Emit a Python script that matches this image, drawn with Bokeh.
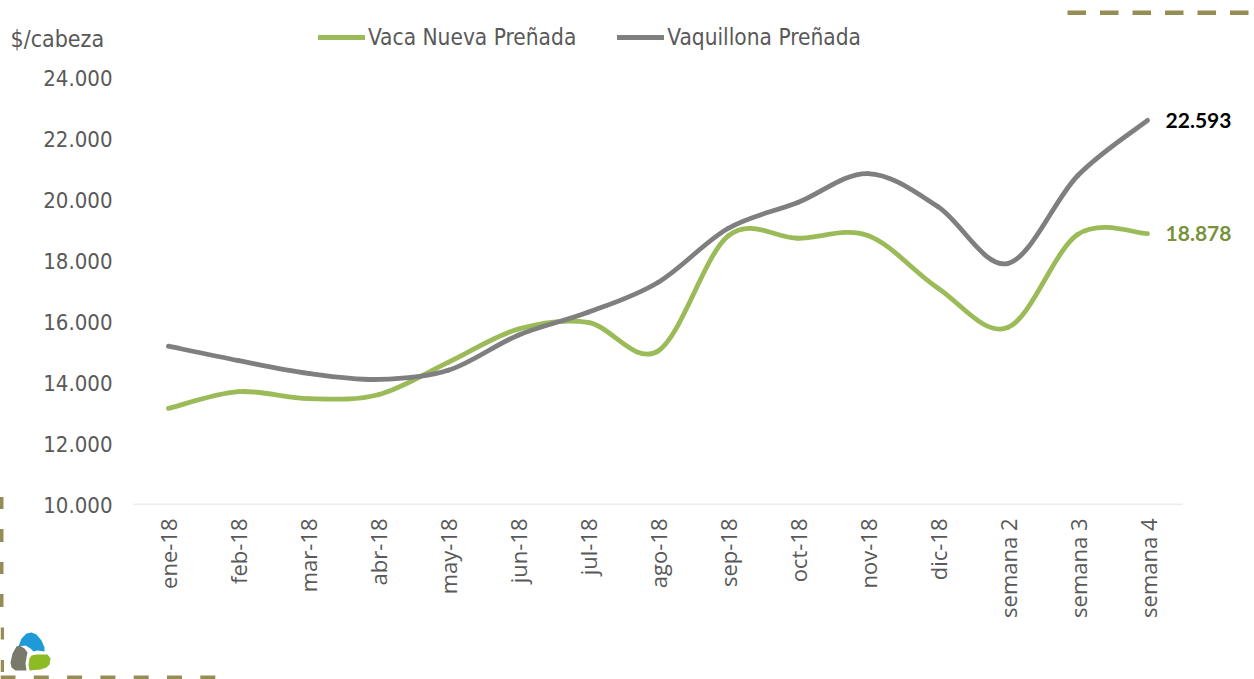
import math
from bokeh.plotting import figure
from bokeh.layouts import column, row
from bokeh.models import (Range1d, FixedTicker, Legend, LegendItem, LabelSet,
                          ColumnDataSource, Div)
from bokeh.core.properties import value
from bokeh.embed import file_html
from bokeh.resources import INLINE

# ---------------- data ----------------
categories = ["ene-18", "feb-18", "mar-18", "abr-18", "may-18", "jun-18", "jul-18",
              "ago-18", "sep-18", "oct-18", "nov-18", "dic-18", "semana 2",
              "semana 3", "semana 4"]
vaca_nueva = [13150, 13700, 13470, 13600, 14660, 15750, 15970, 15030, 18800,
              18730, 18820, 17100, 15800, 18850, 18878]
vaquillona = [15190, 14720, 14300, 14100, 14400, 15550, 16300, 17280, 19050,
              19900, 20850, 19770, 17900, 20780, 22593]
y_ticks = [10000, 12000, 14000, 16000, 18000, 20000, 22000, 24000]
y_tick_labels = ["10.000", "12.000", "14.000", "16.000", "18.000", "20.000",
                 "22.000", "24.000"]
series_names = ["Vaca Nueva Preñada", "Vaquillona Preñada"]
series_values = [vaca_nueva, vaquillona]
series_colors = ["#9BBB59", "#7F7F7F"]
end_label_colors = ["#77933C", "#000000"]
y_label = "$/cabeza"

TEXT_GREY = "#595959"
DECO = "#968C55"
UI_FONT = "DejaVu Sans Condensed, DejaVu Sans"

W, H = 1254, 679
TOP_H = 60          # strip above the chart (unit label, legend, rule)
BOT_H = 54          # strip below the chart (logo, rule)
LEFT_W = 6          # strip left of the chart (dashed rule)
MAIN_H = H - TOP_H - BOT_H
MAIN_W = W - LEFT_W


def fmt(v):
    return f"{v:,}".replace(",", ".")


def bezier_source(vals):
    """Smoothed (Catmull-Rom style) bezier segments through the data points."""
    n = len(vals)

    def P(i):
        i = min(max(i, 0), n - 1)
        return float(i), float(vals[i])

    d = {k: [] for k in ["x0", "y0", "x1", "y1", "cx0", "cy0", "cx1", "cy1"]}
    for i in range(n - 1):
        xa, ya = P(i)
        xb, yb = P(i + 1)
        xp, yp = P(i - 1)
        xn, yn = P(i + 2)
        d["x0"].append(xa); d["y0"].append(ya)
        d["x1"].append(xb); d["y1"].append(yb)
        d["cx0"].append(xa + (xb - xp) / 6.0); d["cy0"].append(ya + (yb - yp) / 6.0)
        d["cx1"].append(xb - (xn - xa) / 6.0); d["cy1"].append(yb - (yn - ya) / 6.0)
    return ColumnDataSource(d)


def strip(width, height, x0, y0):
    """A bare figure whose data space equals page pixels (y downward)."""
    f = figure(width=width, height=height, output_backend="svg", toolbar_location=None,
               x_range=Range1d(x0, x0 + width), y_range=Range1d(y0 + height, y0),
               min_border=0, min_border_left=0, min_border_right=0,
               min_border_top=0, min_border_bottom=0)
    f.axis.visible = False
    f.grid.visible = False
    f.outline_line_color = None
    f.background_fill_color = "white"
    f.border_fill_color = "white"
    return f


def dashes(f, start, stop, period, length, a, b, horizontal=True):
    xs0, xs1, ys0, ys1 = [], [], [], []
    s = start
    while s < stop:
        e = min(s + length, stop)
        if horizontal:
            xs0.append(s); xs1.append(e); ys0.append(a); ys1.append(b)
        else:
            xs0.append(a); xs1.append(b); ys0.append(s); ys1.append(e)
        s += period
    f.quad(left=xs0, right=xs1, top=ys0, bottom=ys1, fill_color=DECO, line_alpha=0)


# ---------------- main chart ----------------
n = len(categories)
frame_left, frame_right_axis = 133, 1182        # page px of the category band
px_per_cat = (frame_right_axis - frame_left) / n
min_left = frame_left - LEFT_W
x_end = -0.5 + (MAIN_W - min_left) / px_per_cat
frame_bottom_local = 504 - TOP_H
px_per_unit = (504 - 77) / (y_ticks[-1] - y_ticks[0])
y_end = y_ticks[0] + frame_bottom_local / px_per_unit

p = figure(width=MAIN_W, height=MAIN_H, output_backend="svg", toolbar_location=None,
           x_range=Range1d(-0.5, x_end), y_range=Range1d(y_ticks[0], y_end),
           min_border_left=min_left, min_border_right=0, min_border_top=0,
           min_border_bottom=MAIN_H - frame_bottom_local,
           background_fill_color="white", border_fill_color="white")
p.outline_line_color = None
p.xgrid.visible = False
p.ygrid.visible = False

p.xaxis.ticker = FixedTicker(ticks=list(range(n)))
p.xaxis.major_label_overrides = {i: c for i, c in enumerate(categories)}
p.xaxis.major_label_orientation = math.pi / 2
p.xaxis.major_label_text_font = "Open Sans"
p.xaxis.major_label_text_font_size = "22px"
p.xaxis.major_label_text_color = TEXT_GREY
p.xaxis.major_label_standoff = 14
p.xaxis.major_tick_out = 0
p.xaxis.major_tick_in = 0
p.xaxis.axis_line_color = None
p.xaxis.major_tick_line_color = None
p.xaxis.minor_tick_line_color = None

p.yaxis.ticker = FixedTicker(ticks=y_ticks)
p.yaxis.major_label_overrides = {t: l for t, l in zip(y_ticks, y_tick_labels)}
p.yaxis.major_label_text_font = UI_FONT
p.yaxis.major_label_text_font_size = "22px"
p.yaxis.major_label_text_color = TEXT_GREY
p.yaxis.major_label_standoff = 21
p.yaxis.major_tick_out = 0
p.yaxis.major_tick_in = 0
p.yaxis.axis_line_color = None
p.yaxis.major_tick_line_color = None
p.yaxis.minor_tick_line_color = None

# category axis base line (only under the categories)
p.segment(x0=[-0.5], y0=[y_ticks[0]], x1=[n - 0.5], y1=[y_ticks[0]],
          line_color="#D9D9D9", line_width=1.5)

for vals, col in zip(series_values, series_colors):
    p.bezier(x0="x0", y0="y0", x1="x1", y1="y1", cx0="cx0", cy0="cy0",
             cx1="cx1", cy1="cy1", source=bezier_source(vals),
             line_color=col, line_width=4.8, line_cap="round")

lab_src = ColumnDataSource(dict(
    x=[n - 1] * len(series_values),
    y=[v[-1] for v in series_values],
    text=[fmt(v[-1]) for v in series_values],
    color=end_label_colors))
p.add_layout(LabelSet(x="x", y="y", text="text", source=lab_src, x_offset=18,
                      text_color="color", text_font=value("Lato"),
                      text_font_size=value("21px"), text_font_style="bold",
                      text_baseline="middle", text_align="left"))

# ---------------- top strip: unit label, legend, dashed rule ----------------
top = strip(W, TOP_H, 0, 0)
top.text(x=[10], y=[38], text=[y_label], text_font=value(UI_FONT),
         text_font_size=value("23px"), text_color=TEXT_GREY,
         text_baseline="middle", text_align="left")
items = []
for name, col in zip(series_names, series_colors):
    # legend swatch carrier: a line kept outside the visible strip
    r = top.line(x=[-50, -40], y=[-50, -50], line_color=col, line_width=4.8,
                 line_cap="round")
    items.append(LegendItem(label=name, renderers=[r]))
legend = Legend(items=items, orientation="horizontal", location=(318, TOP_H - 50),
                padding=0, margin=0, spacing=41, glyph_width=47, glyph_height=22,
                label_height=22, label_standoff=3, border_line_alpha=0,
                background_fill_alpha=0, label_text_font=UI_FONT,
                label_text_font_size="22.5px", label_text_color=TEXT_GREY)
top.add_layout(legend)
dashes(top, 1067, W + 20, 32.5, 18.5, 10, 14.5, horizontal=True)

# ---------------- left strip: dashed rule (plain CSS) ----------------
dash_top = 497 - TOP_H
left = Div(width=LEFT_W, height=MAIN_H, margin=0, styles={
    "background-image": "repeating-linear-gradient(to bottom, %s 0px, %s 12px, "
                        "transparent 12px, transparent 32.5px)" % (DECO, DECO),
    "background-position": "0px %dpx" % dash_top,
    "background-size": "3.5px %dpx" % (MAIN_H - dash_top),
    "background-repeat": "no-repeat",
})

# ---------------- bottom strip: dashed rules and logo ----------------
bot = strip(W, BOT_H, 0, TOP_H + MAIN_H)
dashes(bot, 497, H, 32.5, 12, 0, 3.5, horizontal=False)
dashes(bot, 0, 215, 33.3, 15, 675, 679, horizontal=True)
logo_colors = ["#1E9AD6", "#7A7A6C", "#8DBB25"]
logo_xs = [[18, 21, 26, 31, 36, 41, 44, 44, 37, 33, 30, 25],
           [10, 12, 16, 19, 24, 27, 26, 25, 26, 15, 11],
           [29, 31, 36, 43, 47, 50, 49, 46, 40, 29, 28]]
logo_ys = [[646, 638, 633, 632, 634, 640, 647, 651, 650, 651, 648, 645],
           [662, 653, 646, 645, 648, 652, 657, 663, 670, 670, 667],
           [658, 655, 654, 654, 654, 658, 664, 667, 669, 670, 664]]
bot.patches(xs=logo_xs, ys=logo_ys, fill_color=logo_colors, line_alpha=0)

layout = column(top, row(left, p, spacing=0, margin=0), bot, spacing=0, margin=0)
open("out.html", "w").write(file_html(layout, INLINE))
